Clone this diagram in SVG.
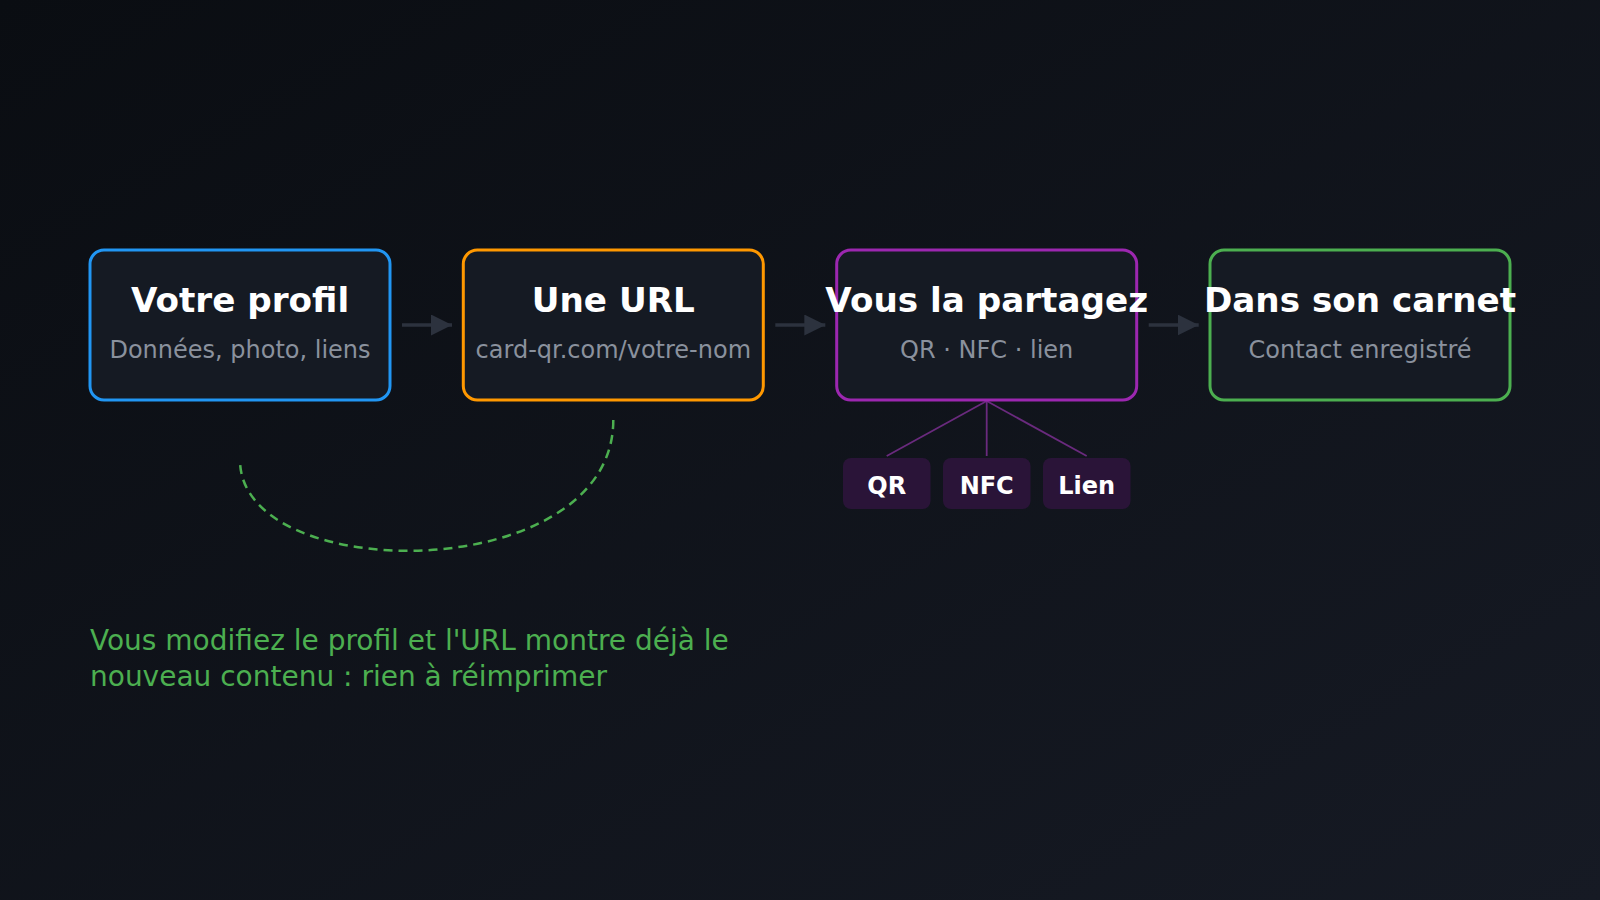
<svg xmlns="http://www.w3.org/2000/svg" width="1600" height="900" viewBox="0 0 1600 900">
<defs>
<linearGradient id="bg" x1="0" y1="0" x2="1" y2="1">
<stop offset="0" stop-color="#0a0d12"/>
<stop offset="1" stop-color="#161a24"/>
</linearGradient>
<marker id="ah" viewBox="0 0 10 10" refX="10" refY="5" markerWidth="6" markerHeight="6" markerUnits="strokeWidth" orient="auto">
<path d="M0,0 L10,5 L0,10 z" fill="#2c323e"/>
</marker>
<style>
.box{fill:#151a23;stroke-width:3}
.title{font-family:"DejaVu Sans",sans-serif;font-weight:bold;font-size:34.2px;fill:#ffffff;text-anchor:middle}
.sub{font-family:"DejaVu Sans",sans-serif;font-size:24px;fill:#8a919d;text-anchor:middle}
.arrow{stroke:#2c323e;stroke-width:3.5;fill:none}
.chip{fill:#2a1438}
.chipt{font-family:"DejaVu Sans",sans-serif;font-weight:bold;font-size:24px;fill:#ffffff;text-anchor:middle}
.branch{stroke:#6a2a7e;stroke-width:1.8;fill:none}
.note{font-family:"DejaVu Sans",sans-serif;font-size:28px;fill:#4caf50}
</style>
</defs>
<rect width="1600" height="900" fill="url(#bg)"/>
<g id="connectors">
<line class="arrow" x1="402" y1="325" x2="452" y2="325" marker-end="url(#ah)"/>
<line class="arrow" x1="775.3" y1="325" x2="825.3" y2="325" marker-end="url(#ah)"/>
<line class="arrow" x1="1148.7" y1="325" x2="1198.7" y2="325" marker-end="url(#ah)"/>
<line class="branch" x1="986.7" y1="401" x2="886.7" y2="456"/>
<line class="branch" x1="986.7" y1="401" x2="986.7" y2="456"/>
<line class="branch" x1="986.7" y1="401" x2="1086.7" y2="456"/>
<path d="M613.3,420 C613.3,587 240,587 240,460" fill="none" stroke="#4caf50" stroke-width="2.5" stroke-dasharray="9 6"/>
</g>
<g id="node-profil">
<rect class="box" x="90" y="250" width="300" height="150" rx="14" stroke="#2196f3"/>
<text class="title" x="240" y="312">Votre profil</text>
<text class="sub" x="240" y="358">Données, photo, liens</text>
</g>
<g id="node-url">
<rect class="box" x="463.3" y="250" width="300" height="150" rx="14" stroke="#ff9800"/>
<text class="title" x="613.3" y="312">Une URL</text>
<text class="sub" x="613.3" y="358">card-qr.com/votre-nom</text>
</g>
<g id="node-partage">
<rect class="box" x="836.7" y="250" width="300" height="150" rx="14" stroke="#9c27b0"/>
<text class="title" x="986.7" y="312">Vous la partagez</text>
<text class="sub" x="986.7" y="358">QR · NFC · lien</text>
</g>
<g id="node-carnet">
<rect class="box" x="1210" y="250" width="300" height="150" rx="14" stroke="#4caf50"/>
<text class="title" x="1360" y="312">Dans son carnet</text>
<text class="sub" x="1360" y="358">Contact enregistré</text>
</g>
<g id="chip-qr">
<rect class="chip" x="843" y="458" width="87.5" height="51" rx="8"/>
<text class="chipt" x="886.7" y="494">QR</text>
</g>
<g id="chip-nfc">
<rect class="chip" x="943" y="458" width="87.5" height="51" rx="8"/>
<text class="chipt" x="986.7" y="494">NFC</text>
</g>
<g id="chip-lien">
<rect class="chip" x="1043" y="458" width="87.5" height="51" rx="8"/>
<text class="chipt" x="1086.7" y="494">Lien</text>
</g>
<g id="note">
<text class="note" x="90" y="650">Vous modifiez le profil et l'URL montre déjà le</text>
<text class="note" x="90" y="686">nouveau contenu : rien à réimprimer</text>
</g>
</svg>
